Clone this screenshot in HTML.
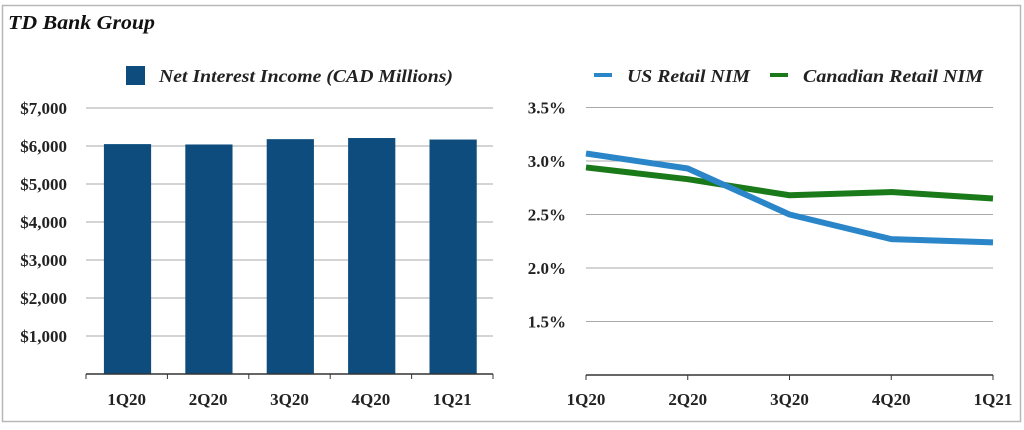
<!DOCTYPE html>
<html><head><meta charset="utf-8"><style>
html,body{margin:0;padding:0;background:#fff;}
svg{display:block;font-family:"Liberation Serif",serif;}
</style></head><body>
<svg id="c" width="1024" height="430">
<rect x="2.5" y="5.5" width="1018" height="416" fill="#fff" stroke="#b8b8b8" stroke-width="1.5"/>
<text x="8" y="29" font-size="20" font-weight="bold" font-style="italic" fill="#111" textLength="147" lengthAdjust="spacingAndGlyphs">TD Bank Group</text>
<g id="left"></g>
<g id="right"></g>
</svg>
<script>
const categories=["1Q20","2Q20","3Q20","4Q20","1Q21"];
const niiValues=[6050,6040,6180,6210,6170];
const niiTicks=[1000,2000,3000,4000,5000,6000,7000];
const usNim=[3.07,2.93,2.50,2.27,2.24];
const caNim=[2.94,2.83,2.68,2.71,2.65];
const nimTicks=[1.5,2.0,2.5,3.0,3.5];
const NS="http://www.w3.org/2000/svg";
function mk(p,t,a,txt){const e=document.createElementNS(NS,t);for(const k in a)e.setAttribute(k,a[k]);if(txt!==undefined)e.textContent=txt;p.appendChild(e);return e;}
// left
const L=document.getElementById('left');
const lx0=86,lx1=493,ly0=374,lyPer=0.038;
const ly=v=>ly0-v*lyPer;
const band=(lx1-lx0)/categories.length;
niiTicks.forEach(t=>{
 const g=mk(L,'line',{x1:lx0,x2:lx1,y1:ly(t),y2:ly(t),stroke:'#aaa','stroke-width':1});
 
 const l=mk(L,'text',{x:67,y:ly(t)+6,'text-anchor':'end','font-size':17,'font-weight':'bold',fill:'#222'},'$'+t.toLocaleString('en-US'));
 
});
niiValues.forEach((v,i)=>{
 const b=mk(L,'rect',{x:lx0+band*i+band*0.22,y:ly(v),width:band*0.58,height:ly0-ly(v),fill:'#0d4c7d'});
 
});
const la=mk(L,'line',{x1:lx0,x2:lx1,y1:ly0,y2:ly0,stroke:'#333','stroke-width':1.5});

for(let i=0;i<=categories.length;i++){const t=mk(L,'line',{x1:lx0+band*i,x2:lx0+band*i,y1:ly0,y2:ly0+5,stroke:'#333'});}
categories.forEach((c,i)=>{const t=mk(L,'text',{x:lx0+band*(i+0.5),y:405,'text-anchor':'middle','font-size':17,'font-weight':'bold',fill:'#222'},c);});
const lsw=mk(L,'rect',{x:126,y:66,width:19,height:19,fill:'#0d4c7d'});
const lt=mk(L,'text',{x:159,y:82,'font-size':18,'font-weight':'bold','font-style':'italic',fill:'#222',textLength:294,lengthAdjust:'spacingAndGlyphs'},'Net Interest Income (CAD Millions)');
// right
const R=document.getElementById('right');
const rx0=586,rx1=993,ry0=375,ryPer=107;
const ry=v=>ry0-(v-1.0)*ryPer;
const rx=i=>rx0+(rx1-rx0)*i/(categories.length-1);
nimTicks.forEach(t=>{
 const g=mk(R,'line',{x1:rx0,x2:rx1,y1:ry(t),y2:ry(t),stroke:'#aaa','stroke-width':1});
 const l=mk(R,'text',{x:566,y:ry(t)+6,'text-anchor':'end','font-size':17,'font-weight':'bold',fill:'#222'},t.toFixed(1)+'%');
});
const ra=mk(R,'line',{x1:rx0,x2:rx1,y1:ry0,y2:ry0,stroke:'#333','stroke-width':1.5});
categories.forEach((c,i)=>{
 const t=mk(R,'line',{x1:rx(i),x2:rx(i),y1:ry0,y2:ry0+5,stroke:'#333'});
 const l=mk(R,'text',{x:rx(i),y:405,'text-anchor':'middle','font-size':17,'font-weight':'bold',fill:'#222'},c);
});
const ca=mk(R,'polyline',{points:caNim.map((v,i)=>rx(i)+','+ry(v)).join(' '),fill:'none',stroke:'#1a7a1a','stroke-width':6,'stroke-linejoin':'round'});

const us=mk(R,'polyline',{points:usNim.map((v,i)=>rx(i)+','+ry(v)).join(' '),fill:'none',stroke:'#2a86c8','stroke-width':6,'stroke-linejoin':'round'});

const l1=mk(R,'line',{x1:594,x2:612,y1:75,y2:75,stroke:'#2a86c8','stroke-width':4});
const t1=mk(R,'text',{x:627,y:82,'font-size':18,'font-weight':'bold','font-style':'italic',fill:'#222',textLength:123,lengthAdjust:'spacingAndGlyphs'},'US Retail NIM');
const l2=mk(R,'line',{x1:770,x2:788,y1:75,y2:75,stroke:'#1a7a1a','stroke-width':4});
const t2=mk(R,'text',{x:803,y:82,'font-size':18,'font-weight':'bold','font-style':'italic',fill:'#222',textLength:180,lengthAdjust:'spacingAndGlyphs'},'Canadian Retail NIM');
</script>
</body></html>
